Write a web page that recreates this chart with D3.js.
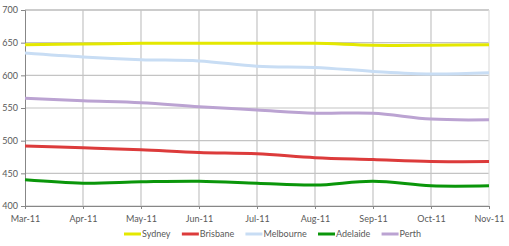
<!DOCTYPE html>
<html>
<head>
<meta charset="utf-8">
<script src="https://cdn.jsdelivr.net/npm/d3@7"></script>
<style>
  body { margin: 0; background: #fff; }
  svg { display: block; }
  text { font-family: Lato, "Open Sans", sans-serif; fill: #595959; }
</style>
</head>
<body>
<div id="chart"></div>
<script>
// months along the x axis
var months = ["Mar-11","Apr-11","May-11","Jun-11","Jul-11","Aug-11","Sep-11","Oct-11","Nov-11"];
var yTicks = [400, 450, 500, 550, 600, 650, 700];

// values
var sydney    = [647, 648, 649, 649, 649, 649, 646, 646, 647];
var brisbane  = [492, 489, 486, 482, 480, 474, 471, 468, 468];
var melbourne = [634, 628, 624, 622, 614, 612, 606, 602, 604];
var adelaide  = [440, 435, 437, 438, 435, 432, 438, 431, 431];
var perth     = [565, 561, 558, 552, 547, 542, 542, 533, 532];

var seriesNames = ["Sydney","Brisbane","Melbourne","Adelaide","Perth"];
var seriesData = [sydney, brisbane, melbourne, adelaide, perth];
var seriesColors = ["#e4e800","#dc3b3b","#c8ddf4","#0a960a","#bba3d2"];

var W = 509, H = 246;
var margin = { top: 10, right: 20, bottom: 40, left: 25 };
var width = W - margin.left - margin.right,
    height = H - margin.top - margin.bottom;

var svg = d3.select("#chart").append("svg")
    .attr("width", W).attr("height", H);
var g = svg.append("g")
    .attr("transform", "translate(" + margin.left + "," + margin.top + ")");

var x = d3.scalePoint().domain(months).range([0, width]);
var y = d3.scaleLinear().domain([400, 700]).range([height, 0]);

// horizontal grid
g.selectAll(".hgrid").data(yTicks).enter().append("line")
    .attr("x1", 0).attr("x2", width)
    .attr("y1", function(d){ return y(d); }).attr("y2", function(d){ return y(d); })
    .attr("stroke", function(d){ return d == 700 ? "#9a9a9a" : "#c4c4c4"; })
    .attr("stroke-width", 1.2);

// vertical grid
g.selectAll(".vgrid").data(months.slice(1)).enter().append("line")
    .attr("x1", function(d){ return x(d); }).attr("x2", function(d){ return x(d); })
    .attr("y1", 0).attr("y2", height)
    .attr("stroke", function(d, i){ return i == months.length - 2 ? "#dedede" : "#c4c4c4"; })
    .attr("stroke-width", 1.2);

// y axis
var yAxis = g.append("g")
    .call(d3.axisLeft(y).tickValues(yTicks).tickSize(4).tickPadding(3));
// x axis
var xAxis = g.append("g")
    .attr("transform", "translate(0," + height + ")")
    .call(d3.axisBottom(x).tickSize(3).tickPadding(7));

[yAxis, xAxis].forEach(function(a){
    a.select(".domain").attr("stroke", "#878787");
    a.selectAll(".tick line").attr("stroke", "#878787");
    a.selectAll("text").attr("font-size", "9px").attr("fill", "#595959")
        .style("font-family", "Lato, 'Open Sans', sans-serif");
});

// the lines
var line = d3.line()
    .x(function(d, i){ return x(months[i]); })
    .y(function(d){ return y(d); })
    .curve(d3.curveCatmullRom.alpha(0.5));

g.selectAll(".series").data(seriesData).enter().append("path")
    .attr("fill", "none")
    .attr("stroke", function(d, i){ return seriesColors[i]; })
    .attr("stroke-width", 3)
    .attr("stroke-linejoin", "round")
    .attr("d", line);

// legend
var legend = svg.append("g").attr("transform", "translate(0,234)");
var items = legend.selectAll(".item").data(seriesNames).enter().append("g");
items.append("line")
    .attr("x1", 0).attr("x2", 17).attr("y1", 0).attr("y2", 0)
    .attr("stroke", function(d, i){ return seriesColors[i]; })
    .attr("stroke-width", 3);
items.append("text")
    .attr("x", 18).attr("y", 3)
    .attr("font-size", "9px")
    .text(function(d){ return d; });

var pos = 0, gap = 11, starts = [];
items.each(function(){
    starts.push(pos);
    pos += this.getBBox().width + gap;
});
items.attr("transform", function(d, i){ return "translate(" + (124 + starts[i]) + ",0)"; });
</script>
</body>
</html>
